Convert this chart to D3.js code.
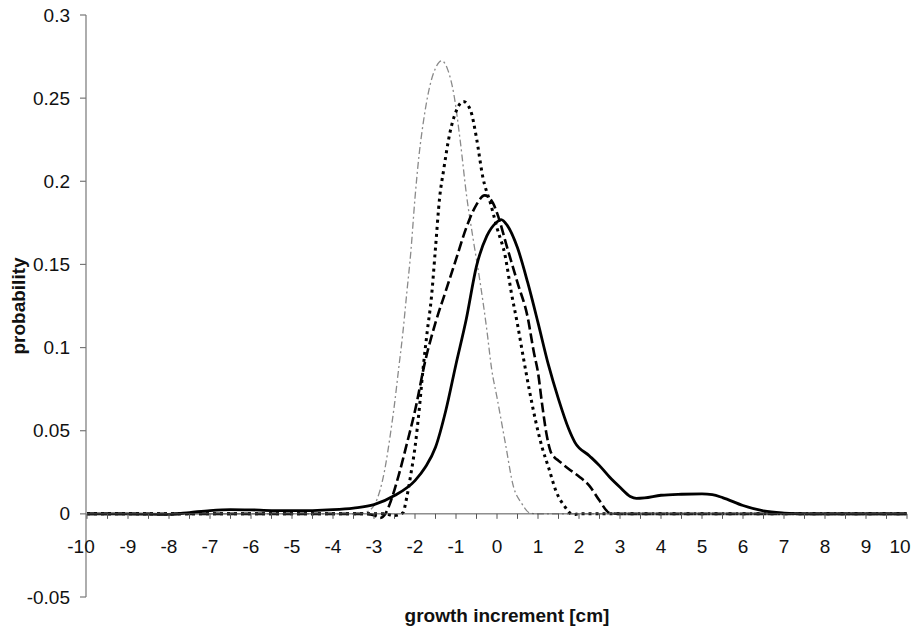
<!DOCTYPE html>
<html>
<head>
<meta charset="utf-8">
<script src="https://cdn.jsdelivr.net/npm/d3@7"></script>
<style>
  html, body { margin: 0; padding: 0; background: #fff; }
  svg { display: block; }
</style>
</head>
<body>
<svg id="mySvg" width="919" height="630"></svg>
<script>
// growth increment (cm) and probability for each of the four curves
const solidX = [-10, -9, -8, -7.5, -7, -6.5, -6, -5.5, -5, -4.5, -4, -3.5, -3, -2.5, -2, -1.75, -1.5, -1.25, -1, -0.75, -0.5, -0.25, 0, 0.1, 0.25, 0.5, 0.75, 1, 1.25, 1.5, 1.75, 1.9, 2.25, 2.5, 2.75, 3, 3.25, 3.4, 3.6, 4, 4.5, 5, 5.25, 5.5, 6, 6.5, 7, 7.5, 8, 9, 10];
const solidY = [0, 0, -0.0003, 0.0008, 0.002, 0.0026, 0.0024, 0.002, 0.0019, 0.002, 0.0025, 0.0035, 0.0055, 0.011, 0.02, 0.028, 0.04, 0.062, 0.09, 0.117, 0.149, 0.167, 0.1755, 0.177, 0.1735, 0.16, 0.139, 0.115, 0.09, 0.069, 0.051, 0.043, 0.035, 0.029, 0.022, 0.016, 0.0105, 0.0093, 0.0096, 0.0112, 0.0118, 0.012, 0.0115, 0.0098, 0.005, 0.0018, 0.0005, 0, 0, 0, 0];

const dashX = [-10, -4, -3.2, -3, -2.85, -2.7, -2.6, -2.4, -2.2, -2, -1.75, -1.5, -1.25, -1, -0.75, -0.5, -0.3, -0.1, 0, 0.25, 0.5, 0.75, 0.9, 1, 1.1, 1.2, 1.3, 1.4, 1.5, 1.75, 2, 2.25, 2.5, 2.75, 3, 4, 10];
const dashY = [0, 0, 0, -0.0008, -0.0025, 0.001, 0.007, 0.023, 0.042, 0.062, 0.092, 0.115, 0.134, 0.153, 0.172, 0.186, 0.1915, 0.187, 0.181, 0.16, 0.139, 0.118, 0.097, 0.085, 0.066, 0.049, 0.038, 0.034, 0.032, 0.027, 0.0225, 0.017, 0.008, 0.0005, 0, 0, 0];

const dotX = [-10, -4, -2.75, -2.5, -2.3, -2.2, -2.1, -2, -1.9, -1.8, -1.7, -1.6, -1.5, -1.4, -1.3, -1.15, -1, -0.82, -0.65, -0.5, -0.35, -0.15, 0, 0.2, 0.35, 0.5, 0.65, 0.8, 0.95, 1.1, 1.25, 1.45, 1.65, 1.85, 2, 3, 10];
const dotY = [0, 0, 0, -0.001, 0.0005, 0.01, 0.024, 0.04, 0.062, 0.088, 0.11, 0.13, 0.16, 0.19, 0.207, 0.229, 0.242, 0.248, 0.243, 0.226, 0.203, 0.186, 0.172, 0.155, 0.133, 0.114, 0.093, 0.073, 0.055, 0.04, 0.0285, 0.013, 0.0045, -0.0005, 0, 0, 0];

const grayX = [-10, -4, -3.5, -3.25, -3, -2.85, -2.75, -2.6, -2.5, -2.4, -2.3, -2.2, -2.1, -2, -1.9, -1.8, -1.65, -1.5, -1.35, -1.2, -1.05, -0.9, -0.74, -0.58, -0.41, -0.25, -0.13, 0, 0.2, 0.4, 0.6, 0.8, 1, 2, 10];
const grayY = [0, 0, 0, 0.0005, 0.005, 0.0145, 0.025, 0.048, 0.066, 0.087, 0.108, 0.133, 0.158, 0.19, 0.216, 0.235, 0.256, 0.268, 0.2725, 0.267, 0.252, 0.225, 0.191, 0.165, 0.139, 0.111, 0.087, 0.07, 0.043, 0.0165, 0.0064, 0.0005, 0, 0, 0];

const xTicks = d3.range(-10, 10.01, 1);
const xMinorTicks = d3.range(-10, 10.01, 0.5);
const yTicks = [-0.05, 0, 0.05, 0.1, 0.15, 0.2, 0.25, 0.3];
const yTickLabels = ["-0.05", "0", "0.05", "0.1", "0.15", "0.2", "0.25", "0.3"];

const svg = d3.select("#mySvg");
svg.selectAll("*").remove();

svg.append("rect")
  .attr("width", 919).attr("height", 630).attr("fill", "#fff");

const x = d3.scaleLinear().domain([-10, 10]).range([87, 907]);
const y = d3.scaleLinear().domain([-0.05, 0.3]).range([597, 15]);

const line = d3.line()
  .x(d => x(d[0]))
  .y(d => y(d[1]))
  .curve(d3.curveMonotoneX);

const series = [
  { xs: grayX, ys: grayY, stroke: "#8a8a8a", width: 1.3, dash: "7,3,2,3" },
  { xs: dotX, ys: dotY, stroke: "#000", width: 3, dash: "3,4" },
  { xs: dashX, ys: dashY, stroke: "#000", width: 2.6, dash: "10,4" },
  { xs: solidX, ys: solidY, stroke: "#000", width: 2.8, dash: null }
];

series.forEach(s => {
  svg.append("path")
    .datum(d3.zip(s.xs, s.ys))
    .attr("d", line)
    .attr("fill", "none")
    .attr("stroke", s.stroke)
    .attr("stroke-width", s.width)
    .attr("stroke-dasharray", s.dash);
});

// y axis
const yAxis = svg.append("g");
yAxis.append("line")
  .attr("x1", 86).attr("x2", 86)
  .attr("y1", y(0.3)).attr("y2", y(-0.05))
  .attr("stroke", "#777").attr("stroke-width", 1.2);
yAxis.selectAll("line.tick")
  .data(yTicks)
  .join("line")
  .attr("class", "tick")
  .attr("x1", 80).attr("x2", 86)
  .attr("y1", d => y(d)).attr("y2", d => y(d))
  .attr("stroke", "#777").attr("stroke-width", 1.2);
yAxis.selectAll("text")
  .data(yTicks)
  .join("text")
  .attr("x", 70)
  .attr("y", d => y(d) + 6.5)
  .attr("text-anchor", "end")
  .attr("font-family", "Arial, 'Liberation Sans', sans-serif")
  .attr("font-size", "19px")
  .attr("fill", "#111")
  .text((d, i) => yTickLabels[i]);

// x axis at y = 0
const xAxis = svg.append("g");
xAxis.append("line")
  .attr("x1", x(-10)).attr("x2", x(10))
  .attr("y1", y(0)).attr("y2", y(0))
  .attr("stroke", "#555").attr("stroke-width", 1);
xAxis.selectAll("line.tick")
  .data(xMinorTicks)
  .join("line")
  .attr("class", "tick")
  .attr("x1", d => x(d)).attr("x2", d => x(d))
  .attr("y1", y(0)).attr("y2", y(0) + 5)
  .attr("stroke", "#555").attr("stroke-width", 1);
xAxis.selectAll("text")
  .data(xTicks)
  .join("text")
  .attr("x", d => x(d) + (d === -10 ? -6 : d === 10 ? -7 : 0))
  .attr("y", 553)
  .attr("text-anchor", "middle")
  .attr("font-family", "Arial, 'Liberation Sans', sans-serif")
  .attr("font-size", "19px")
  .attr("fill", "#111")
  .text(d => d);

// axis titles
svg.append("text")
  .attr("x", 507)
  .attr("y", 622)
  .attr("text-anchor", "middle")
  .attr("font-family", "Arial, 'Liberation Sans', sans-serif")
  .attr("font-size", "19px")
  .attr("font-weight", "bold")
  .attr("fill", "#111")
  .text("growth increment [cm]");

svg.append("text")
  .attr("transform", "translate(25,306) rotate(-90)")
  .attr("text-anchor", "middle")
  .attr("font-family", "Arial, 'Liberation Sans', sans-serif")
  .attr("font-size", "19px")
  .attr("font-weight", "bold")
  .attr("fill", "#111")
  .text("probability");
</script>
</body>
</html>
